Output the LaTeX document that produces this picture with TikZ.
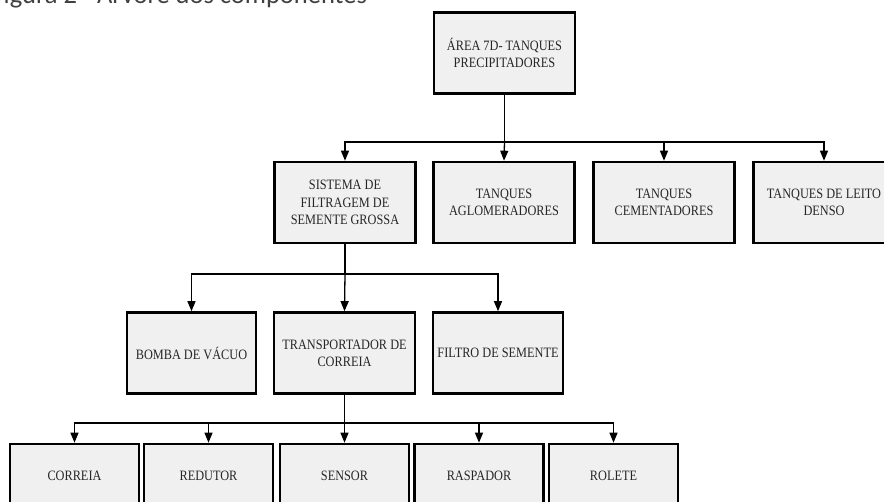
\documentclass[tikz,border=0pt]{standalone}
\usepackage{xcolor}
\usepackage{fontspec}
\usepackage{tikz}
\usetikzlibrary{arrows.meta, calc}

\newfontfamily\boxfont[FakeStretch=0.86]{Liberation Serif}
\newfontfamily\capfont{Carlito}
\definecolor{boxgray}{HTML}{F0F0F0}
\definecolor{captiongray}{HTML}{404040}

\begin{document}
\begin{tikzpicture}[
x=1pt, y=1pt,
tree box/.style = {draw, line width=2.6pt, fill=boxgray, rectangle, inner sep=0pt,
  minimum width=141pt, minimum height=81pt, align=center,
  font=\boxfont\fontsize{14.3}{17.3}\selectfont, text=black!85},
narrow box/.style = {tree box, minimum width=129pt},
leaf box/.style = {narrow box, minimum height=64pt},
bus/.style = {line width=1.3pt},
branch/.style = {bus, -{Triangle[width=8pt,length=10pt]}}
]

\useasboundingbox (0,0) rectangle (884,502);

\node (caption) at (-12, 498) [anchor=base west, font=\capfont\fontsize{26.5}{30}\selectfont, text=captiongray] {Figura 2 - Árvore dos componentes};

% level 1
\node (area) at (504.5, 449) [tree box] {ÁREA 7D- TANQUES\\PRECIPITADORES};

% level 2
\node (sistema) at (345, 299.5) [tree box] {SISTEMA DE\\FILTRAGEM DE\\SEMENTE GROSSA};
\node (aglom) at (504, 299.5) [tree box] {TANQUES\\AGLOMERADORES};
\node (cement) at (664, 299.5) [tree box] {TANQUES\\CEMENTADORES};
\node (leito) at (824, 299.5) [tree box] {TANQUES DE LEITO\\DENSO};

% level 3
\node (bomba) at (191.5, 149) [narrow box] {BOMBA DE VÁCUO};
\node (transp) at (344.5, 149) [tree box] {TRANSPORTADOR DE\\CORREIA};
\node (filtro) at (498, 149) [narrow box, minimum width=130pt] {FILTRO DE SEMENTE};

% level 4
\node (correia) at (74.5, 26) [leaf box] {CORREIA};
\node (redutor) at (208.5, 26) [leaf box] {REDUTOR};
\node (sensor) at (344.5, 26) [leaf box] {SENSOR};
\node (raspador) at (479, 26) [leaf box] {RASPADOR};
\node (rolete) at (613.5, 26) [leaf box] {ROLETE};

% junctions
\coordinate (j1) at (area.south |- 0,360);
\coordinate (j2) at (sistema.south |- 0,228);
\coordinate (j3) at (transp.south |- 0,79);

\draw[bus] (area.south) -- (j1);
\draw[branch] (j1) -| (sistema.north);
\draw[branch] (j1) -- (aglom.north);
\draw[branch] (j1) -| (cement.north);
\draw[branch] (j1) -| (leito.north);

\draw[bus] (sistema.south) -- (j2);
\draw[branch] (j2) -| (bomba.north);
\draw[branch] (j2) -- (transp.north);
\draw[branch] (j2) -| (filtro.north);

\draw[bus] (transp.south) -- (j3);
\draw[branch] (j3) -| (correia.north);
\draw[branch] (j3) -| (redutor.north);
\draw[branch] (j3) -- (sensor.north);
\draw[branch] (j3) -| (raspador.north);
\draw[branch] (j3) -| (rolete.north);
\end{tikzpicture}
\end{document}
